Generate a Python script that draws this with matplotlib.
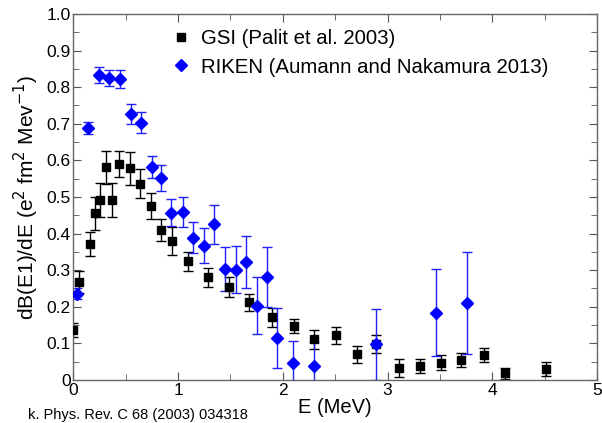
import matplotlib.pyplot as plt

plt.rcParams['font.family'] = ['Liberation Sans', 'DejaVu Sans']

# GSI (Palit et al. 2003)
gsi_e = [0.0, 0.055, 0.16, 0.207, 0.255, 0.315, 0.366, 0.436, 0.538, 0.636,
         0.741, 0.834, 0.942, 1.091, 1.288, 1.489, 1.679, 1.893, 2.106, 2.30,
         2.504, 2.71, 2.888, 3.105, 3.308, 3.509, 3.706, 3.922, 4.119, 4.51]
gsi_b = [0.137, 0.269, 0.372, 0.455, 0.492, 0.581, 0.492, 0.590, 0.578, 0.536,
         0.475, 0.410, 0.380, 0.325, 0.281, 0.255, 0.212, 0.171, 0.148, 0.111,
         0.122, 0.070, 0.098, 0.032, 0.038, 0.047, 0.055, 0.068, 0.018, 0.030]
gsi_err = [0.02, 0.03, 0.033, 0.045, 0.046, 0.045, 0.047, 0.036, 0.044, 0.04,
           0.035, 0.031, 0.038, 0.026, 0.026, 0.027, 0.024, 0.027, 0.019, 0.026,
           0.024, 0.024, 0.024, 0.025, 0.02, 0.02, 0.02, 0.02, 0.016, 0.018]

# RIKEN (Aumann and Nakamura 2013)
rik_e = [0.038, 0.137, 0.245, 0.344, 0.446, 0.548, 0.646, 0.748, 0.837, 0.932,
         1.044, 1.145, 1.247, 1.346, 1.448, 1.55, 1.648, 1.75, 1.845, 1.947,
         2.093, 2.30, 2.888, 3.461, 3.76]
rik_b = [0.235, 0.688, 0.833, 0.824, 0.822, 0.727, 0.703, 0.581, 0.551, 0.457,
         0.460, 0.389, 0.367, 0.425, 0.303, 0.301, 0.322, 0.203, 0.281, 0.114,
         0.046, 0.038, 0.098, 0.184, 0.210]
rik_err = [0.015, 0.017, 0.021, 0.022, 0.025, 0.028, 0.029, 0.03, 0.035, 0.037,
           0.041, 0.042, 0.048, 0.053, 0.06, 0.064, 0.072, 0.077, 0.082, 0.082,
           0.06, 0.065, 0.097, 0.119, 0.14]

fig = plt.figure(figsize=(6.02, 4.23), dpi=100)
ax = fig.add_axes([0.1218, 0.1017, 0.8699, 0.8653])

ax.errorbar(gsi_e, gsi_b, yerr=gsi_err, fmt='none', ecolor='black',
            elinewidth=1, capsize=3.5, capthick=1, zorder=2)
ax.errorbar(rik_e, rik_b, yerr=rik_err, fmt='none', ecolor='#2020ff',
            elinewidth=1, capsize=3.5, capthick=1, zorder=2)
ax.plot(gsi_e, gsi_b, 's', color='black', ms=6.3, ls='none', zorder=3,
        label='GSI (Palit et al. 2003)')
ax.plot(rik_e, rik_b, 'D', color='#0000ff', ms=6.3, ls='none', zorder=3,
        label='RIKEN (Aumann and Nakamura 2013)')

ax.set_xlim(0, 5)
ax.set_ylim(0, 1.0)
ax.set_xticks([0, 1, 2, 3, 4, 5])
ax.set_xticks([0.5, 1.5, 2.5, 3.5, 4.5], minor=True)
ax.set_yticks([i / 10 for i in range(11)])
ax.set_yticklabels(['0'] + ['%.1f' % (i / 10) for i in range(1, 11)])
ax.set_yticks([0.05 + i / 10 for i in range(10)], minor=True)
ax.tick_params(which='both', direction='in', top=True, right=True,
               color='#555555', labelsize=12.5, pad=2)
ax.tick_params(which='major', length=6)
ax.tick_params(which='minor', length=4)
for s in ax.spines.values():
    s.set_color('#666666')
    s.set_linewidth(1)

ax.set_xlabel('E (MeV)', fontsize=14.5, labelpad=0)
ax.set_ylabel('dB(E1)/dE (e$^2$ fm$^2$ Mev$^{-1}$)', fontsize=15,
              labelpad=4)

ax.legend(loc='upper left', bbox_to_anchor=(0.17, 0.98), frameon=False,
          fontsize=14.7, handletextpad=0.5, borderaxespad=0, labelspacing=0.45,
          handlelength=1.0)

fig.text(28 / 602, 1 / 423, 'k. Phys. Rev. C 68 (2003) 034318',
         fontsize=10.5, va='bottom', ha='left')

fig.savefig('out.png', dpi=100)
